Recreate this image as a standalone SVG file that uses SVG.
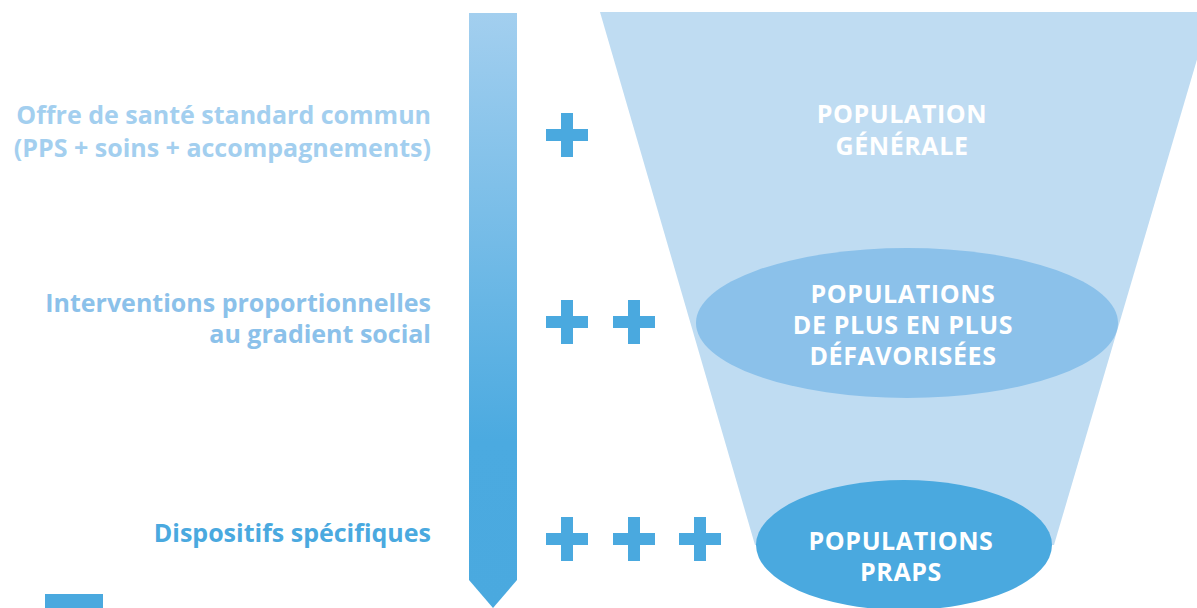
<svg xmlns="http://www.w3.org/2000/svg" width="1197" height="608" viewBox="0 0 1197 608">
<defs>
<linearGradient id="barGrad" x1="0" y1="13" x2="0" y2="608" gradientUnits="userSpaceOnUse">
<stop offset="0" stop-color="#A3CFEF"/>
<stop offset="0.72" stop-color="#4BAAE0"/>
<stop offset="1" stop-color="#4AA9DF"/>
</linearGradient>
<path id="plus" d="M-21,-6 H-6 V-22 H6 V-6 H21 V6 H6 V22 H-6 V6 H-21 Z" fill="#4AA9DF"/>
</defs>
<style>
.lbl{font-family:"Open Sans","Liberation Sans",sans-serif;font-weight:700;font-size:25px;text-anchor:end}
.pop{font-family:"Open Sans","Liberation Sans",sans-serif;font-weight:700;font-size:25px;letter-spacing:0.6px;fill:#FFFFFF;text-anchor:middle}
</style>
<rect width="1197" height="608" fill="#FFFFFF"/>
<g id="funnel">
<path d="M600,12 H1197 V12 L1211,12 L1054,545 L755,545 Z" fill="#BFDCF2"/>
</g>
<g id="bar">
<path d="M469,13 H517 V580 L493,608 L469,580 Z" fill="url(#barGrad)"/>
</g>
<g id="legend">
<rect x="45" y="594" width="58" height="14" fill="#4AA9DF"/>
</g>
<g id="connectors"></g>
<g id="plus-row1"><use href="#plus" x="567" y="135"/></g>
<g id="plus-row2"><use href="#plus" x="567" y="322"/><use href="#plus" x="634" y="322"/></g>
<g id="plus-row3"><use href="#plus" x="567" y="539"/><use href="#plus" x="634" y="539"/><use href="#plus" x="700" y="539"/></g>
<g id="label-row1">
<text class="lbl" x="431" y="124" fill="#A3CFEF">Offre de santé standard commun</text>
<text class="lbl" x="431" y="157" fill="#A3CFEF">(PPS + soins + accompagnements)</text>
</g>
<g id="label-row2">
<text class="lbl" x="431" y="312" fill="#8BC1EA">Interventions proportionnelles</text>
<text class="lbl" x="431" y="343" fill="#8BC1EA">au gradient social</text>
</g>
<g id="label-row3">
<text class="lbl" x="431" y="542" fill="#4AA9DF">Dispositifs spécifiques</text>
</g>
<g id="node-general">
<text class="pop" x="902" y="123">POPULATION</text>
<text class="pop" x="902" y="155">GÉNÉRALE</text>
</g>
<g id="node-defavorisees">
<ellipse cx="907" cy="323" rx="211" ry="75" fill="#8BC1EA"/>
<text class="pop" x="903" y="303">POPULATIONS</text>
<text class="pop" x="903" y="334">DE PLUS EN PLUS</text>
<text class="pop" x="903" y="365">DÉFAVORISÉES</text>
</g>
<g id="node-praps">
<ellipse cx="904" cy="545" rx="148" ry="65" fill="#4AA9DF"/>
<text class="pop" x="901" y="550">POPULATIONS</text>
<text class="pop" x="901" y="581">PRAPS</text>
</g>
</svg>
